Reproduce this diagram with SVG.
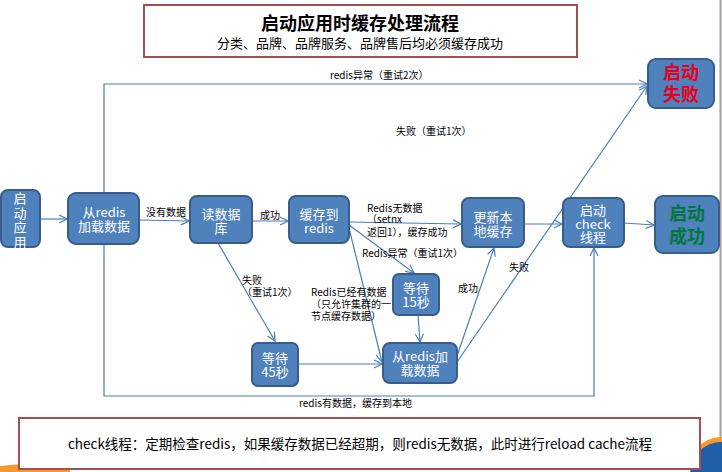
<svg xmlns="http://www.w3.org/2000/svg" width="722" height="472" viewBox="0 0 722 472">
<defs>
<style>
.node rect{fill:#4f81bd;stroke:#385d8a;stroke-width:2}
.nt{fill:#fff;font-family:"Microsoft YaHei","Noto Sans CJK SC",sans-serif;font-size:13px;text-anchor:middle}
.big{font-size:18px;font-weight:bold}
.lbl{fill:#000;font-family:"Noto Sans CJK SC",sans-serif;font-size:10px}
.conn path,.conn line,.conn polyline{fill:none;stroke:#4a7ebb;stroke-width:1.2}
</style>
<marker id="ar" markerWidth="10" markerHeight="10" refX="9" refY="5" orient="auto" markerUnits="userSpaceOnUse">
<path d="M1,1 L9,5 L1,9" fill="none" stroke="#4a7ebb" stroke-width="1.2"/>
</marker>
</defs>
<rect width="722" height="472" fill="#fff"/>
<line x1="720.5" y1="0" x2="720.5" y2="472" stroke="#a0a0a0" stroke-width="2"/>
<path d="M0,472 L0,466 Q30,462 70,466 L70,472 Z" fill="#f39a2b"/>
<path d="M690,472 L700,445 Q712,438 722,440 L722,472 Z" fill="#1f5fa8"/>
<path d="M696,448 Q710,436 722,437 L722,442 Q710,441 698,452 Z" fill="#f39a2b"/>

<g id="title">
<rect x="144" y="5" width="433" height="52" fill="#fff" stroke="#a5504f" stroke-width="2"/>
<text x="360" y="30" font-family="Noto Sans CJK SC,sans-serif" font-size="18" font-weight="bold" text-anchor="middle">启动应用时缓存处理流程</text>
<text x="360" y="48" font-family="Noto Sans CJK SC,sans-serif" font-size="13" text-anchor="middle">分类、品牌、品牌服务、品牌售后均必须缓存成功</text>
</g>

<g class="conn">
<line x1="40" y1="219" x2="67" y2="219" marker-end="url(#ar)"/>
<line x1="139" y1="220" x2="189" y2="221" marker-end="url(#ar)"/>
<line x1="252" y1="221" x2="288" y2="221" marker-end="url(#ar)"/>
<line x1="349" y1="222" x2="461" y2="224" marker-end="url(#ar)"/>
<line x1="349" y1="225" x2="414" y2="273" marker-end="url(#ar)"/>
<line x1="349" y1="228" x2="382" y2="362" marker-end="url(#ar)"/>
<line x1="218" y1="243" x2="275" y2="341" marker-end="url(#ar)"/>
<line x1="298" y1="364" x2="382" y2="364" marker-end="url(#ar)"/>
<line x1="418" y1="315" x2="420" y2="342" marker-end="url(#ar)"/>
<line x1="524" y1="224" x2="562" y2="224" marker-end="url(#ar)"/>
<line x1="624" y1="223" x2="654" y2="225" marker-end="url(#ar)"/>
<line x1="457" y1="356" x2="494" y2="248" marker-end="url(#ar)"/>
<line x1="457" y1="362" x2="647" y2="86" marker-end="url(#ar)"/>
<polyline points="104,193 104,84 647,84" marker-end="url(#ar)"/>
<polyline points="104,244 104,396 594,396 594,248" marker-end="url(#ar)"/>
</g>

<g id="labels" class="lbl">
<text x="330" y="79">redis异常（重试2次）</text>
<text x="396" y="135">失败（重试1次）</text>
<text x="146" y="216">没有数据</text>
<text x="260" y="219">成功</text>
<text x="367" y="212">Redis无数据<tspan x="367" dy="11">（setnx</tspan><tspan x="367" dy="13">返回1），缓存成功</tspan></text>
<text x="362" y="257">Redis异常（重试1次）</text>
<text x="242" y="284">失败<tspan x="242" dy="12">（重试1次）</tspan></text>
<text x="311" y="296">Redis已经有数据<tspan x="311" dy="12">（只允许集群的一</tspan><tspan x="311" dy="12">节点缓存数据）</tspan></text>
<text x="458" y="292">成功</text>
<text x="509" y="271">失败</text>
<text x="299" y="407">redis有数据，缓存到本地</text>
</g>

<g id="n-start" class="node">
<rect x="1" y="190" width="39" height="57" rx="7"/>
<text class="nt" x="20" y="203">启<tspan x="20" dy="14.5">动</tspan><tspan x="20" dy="14.5">应</tspan><tspan x="20" dy="14.5">用</tspan></text>
</g>
<g id="n-load" class="node">
<rect x="68" y="193" width="71" height="51" rx="8"/>
<text class="nt" x="104" y="217">从redis<tspan x="104" dy="14">加载数据</tspan></text>
</g>
<g id="n-db" class="node">
<rect x="190" y="196" width="62" height="47" rx="7"/>
<text class="nt" x="221" y="219">读数据<tspan x="221" dy="14">库</tspan></text>
</g>
<g id="n-cache" class="node">
<rect x="289" y="196" width="60" height="47" rx="7"/>
<text class="nt" x="319" y="219">缓存到<tspan x="319" dy="14">redis</tspan></text>
</g>
<g id="n-local" class="node">
<rect x="462" y="198" width="62" height="49" rx="7"/>
<text class="nt" x="493" y="222">更新本<tspan x="493" dy="14">地缓存</tspan></text>
</g>
<g id="n-check" class="node">
<rect x="563" y="198" width="61" height="49" rx="7"/>
<text class="nt" x="593" y="215">启动<tspan x="593" dy="13.5">check</tspan><tspan x="593" dy="13.5">线程</tspan></text>
</g>
<g id="n-ok" class="node">
<rect x="655" y="196" width="64" height="57" rx="8"/>
<text class="nt big" x="687" y="220" style="fill:#00783a">启动<tspan x="687" dy="23">成功</tspan></text>
</g>
<g id="n-fail" class="node">
<rect x="648" y="59" width="66" height="49" rx="8"/>
<text class="nt big" x="681" y="79" style="fill:#e8001c">启动<tspan x="681" dy="22">失败</tspan></text>
</g>
<g id="n-w15" class="node">
<rect x="393" y="274" width="46" height="41" rx="6"/>
<text class="nt" x="416" y="293">等待<tspan x="416" dy="14">15秒</tspan></text>
</g>
<g id="n-w45" class="node">
<rect x="252" y="343" width="46" height="43" rx="6"/>
<text class="nt" x="275" y="363">等待<tspan x="275" dy="14">45秒</tspan></text>
</g>
<g id="n-load2" class="node">
<rect x="383" y="343" width="74" height="40" rx="7"/>
<text class="nt" x="420" y="361">从redis加<tspan x="420" dy="14">载数据</tspan></text>
</g>

<g id="note">
<rect x="19" y="418" width="681" height="51" fill="#fff" stroke="#a5504f" stroke-width="2"/>
<text x="360" y="449" font-family="Noto Sans CJK SC,sans-serif" font-size="13.5" text-anchor="middle">check线程：定期检查redis，如果缓存数据已经超期，则redis无数据，此时进行reload cache流程</text>
</g>
</svg>
